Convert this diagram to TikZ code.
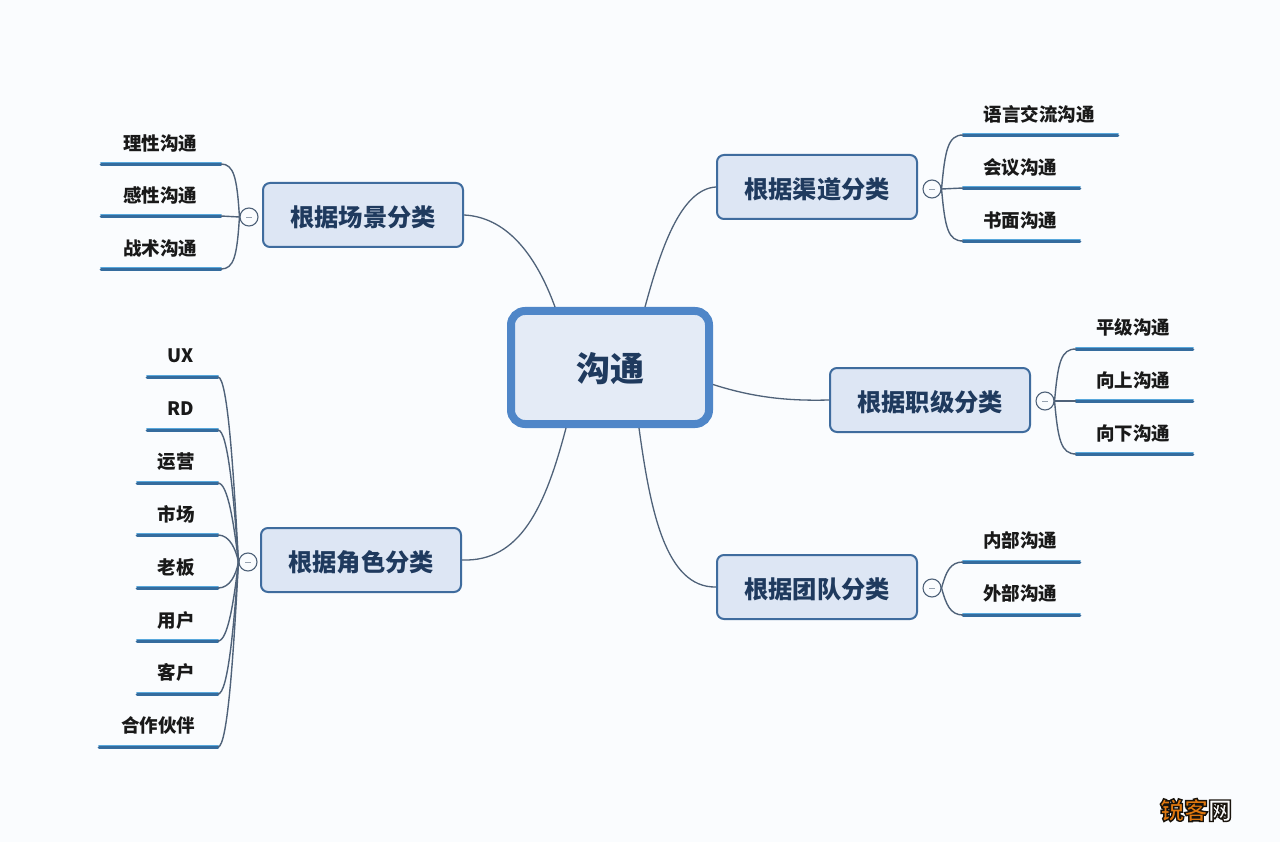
\documentclass[tikz,border=0pt]{standalone}
\usepackage{fontspec}
\setmainfont{Noto Sans CJK SC}
\definecolor{bgc}{HTML}{FAFCFE}
\definecolor{boxfill}{HTML}{DDE6F4}
\definecolor{boxline}{HTML}{3F6C9E}
\definecolor{mainline}{HTML}{4F86C8}
\definecolor{connc}{HTML}{4F6279}
\definecolor{maintext}{HTML}{1F3A5E}
\definecolor{leafdark}{HTML}{356C9E}
\definecolor{leaflight}{HTML}{58A8DC}
\tikzset{
  mainbox/.style={draw=mainline,line width=8pt,fill=boxfill!80!white,rounded corners=14pt,minimum width=198pt,minimum height=113pt,text=maintext,font=\fontsize{34}{38}\selectfont\bfseries,inner sep=0pt},
  catbox/.style={draw=boxline,line width=2pt,fill=boxfill,rounded corners=7pt,minimum width=200pt,minimum height=64pt,text=maintext,font=\fontsize{24.3}{28}\selectfont\bfseries,inner sep=0pt},
  toggle/.style={circle,draw=connc,line width=1.1pt,fill=bgc,minimum size=18pt,inner sep=0pt},
  leaf/.style={text=black!90,font=\fontsize{18.5}{22}\selectfont\bfseries,inner sep=0pt},
  conn/.style={draw=connc,line width=1.3pt},
  branch/.style={draw=connc,line width=1.4pt},
  ulight/.style={draw=leaflight,line width=1.6pt,line cap=round},
  udark/.style={draw=leafdark,line width=2.6pt,line cap=round},
  dash mark/.style={draw=connc!60,line width=0.8pt}
}
\newcommand{\leafrow}[6]{%
  \coordinate (#1a) at (#4,#6);
  \coordinate (#1b) at (#5,#6);
  \draw[ulight] ([yshift=1.4pt]#1a) -- ([yshift=1.4pt]#1b);
  \draw[udark] ([yshift=-0.3pt]#1a) -- ([yshift=-0.3pt]#1b);
  \node[leaf] (#1t) at (#2,#3+0.5) {\leaftxt};
}
\newcommand{\togglemark}[1]{\draw[dash mark] ([xshift=-3pt]#1.center) -- ([xshift=3pt]#1.center);}
\newcommand{\leaftxt}{}
\newcommand{\boxtxt}[2][-11.6pt]{\raisebox{#1}[0pt][0pt]{#2}}
\begin{document}
\begin{tikzpicture}[x=1pt,y=-1pt]
\useasboundingbox (0,0) rectangle (1280,842);
\fill[bgc] (0,0) rectangle (1280,842);

\node[mainbox] (hub) at (610,367.5) {\boxtxt[-13.7pt]{沟通}};
\node[catbox] (qd) at (817,187) {\boxtxt{根据渠道分类}};
\node[catbox] (cj) at (363,215) {\boxtxt{根据场景分类}};
\node[catbox] (zj) at (930,400) {\boxtxt{根据职级分类}};
\node[catbox] (td) at (817,587) {\boxtxt{根据团队分类}};
\node[catbox] (js) at (361,560) {\boxtxt{根据角色分类}};

% hub connectors
\draw[conn] ([xshift=35pt]hub.north) .. controls ([xshift=50pt,yshift=55pt]hub.north) and (680,189) .. (qd.west);
\draw[conn] ([xshift=-55pt]hub.north) .. controls ([xshift=-75pt,yshift=55pt]hub.north) and (505,217) .. (cj.east);
\draw[conn] ([yshift=-17pt]hub.east) .. controls (755,398) and (790,401) .. (zj.west);
\draw[conn] ([xshift=29pt]hub.south) .. controls ([xshift=40pt,yshift=-80pt]hub.south) and (665,588) .. (td.west);
\draw[conn] ([xshift=-44pt]hub.south) .. controls ([xshift=-65pt,yshift=-80pt]hub.south) and (520,562) .. (js.east);

% toggles
\node[toggle] (tq) at (932,189) {};
\node[toggle] (tc) at (249,217) {};
\node[toggle] (tz) at (1045,401) {};
\node[toggle] (tt) at (932,588) {};
\node[toggle] (tj) at (248,562) {};
\togglemark{tq}\togglemark{tc}\togglemark{tz}\togglemark{tt}\togglemark{tj}

% 渠道
\renewcommand{\leaftxt}{语言交流沟通}\leafrow{a}{1039}{114}{963}{1118}{135}
\renewcommand{\leaftxt}{会议沟通}\leafrow{b}{1020}{167}{963}{1080}{188}
\renewcommand{\leaftxt}{书面沟通}\leafrow{c}{1020}{220}{963}{1080}{241}
\draw[branch] (tq.east) .. controls (945,150) and (948,135) .. (aa);
\draw[branch] (tq.east) -- (ba);
\draw[branch] (tq.east) .. controls (945,228) and (948,241) .. (ca);

% 场景
\renewcommand{\leaftxt}{理性沟通}\leafrow{d}{160}{143}{101}{221}{164}
\renewcommand{\leaftxt}{感性沟通}\leafrow{e}{160}{195}{101}{221}{216}
\renewcommand{\leaftxt}{战术沟通}\leafrow{f}{160}{248}{101}{221}{269}
\draw[branch] (tc.west) .. controls (237,178) and (234,164) .. (db);
\draw[branch] (tc.west) -- (eb);
\draw[branch] (tc.west) .. controls (237,256) and (234,269) .. (fb);

% 职级
\renewcommand{\leaftxt}{平级沟通}\leafrow{g}{1133}{327}{1076}{1193}{349}
\renewcommand{\leaftxt}{向上沟通}\leafrow{h}{1133}{380}{1076}{1193}{401}
\renewcommand{\leaftxt}{向下沟通}\leafrow{i}{1133}{433}{1076}{1193}{454}
\draw[branch] (tz.east) .. controls (1058,362) and (1061,349) .. (ga);
\draw[branch] (tz.east) -- (ha);
\draw[branch] (tz.east) .. controls (1058,440) and (1061,454) .. (ia);

% 团队
\renewcommand{\leaftxt}{内部沟通}\leafrow{j}{1020}{540}{963}{1080}{562}
\renewcommand{\leaftxt}{外部沟通}\leafrow{k}{1020}{593}{963}{1080}{615}
\draw[branch] (tt.east) .. controls (946,572) and (950,562) .. (ja);
\draw[branch] (tt.east) .. controls (946,604) and (950,615) .. (ka);

% 角色
\renewcommand{\leaftxt}{UX}\leafrow{m}{181}{355}{147}{218}{377}
\renewcommand{\leaftxt}{RD}\leafrow{n}{181}{408}{147}{218}{430}
\renewcommand{\leaftxt}{运营}\leafrow{o}{176}{461}{137}{218}{483}
\renewcommand{\leaftxt}{市场}\leafrow{p}{176}{514}{137}{218}{535}
\renewcommand{\leaftxt}{老板}\leafrow{q}{176}{567}{137}{218}{588}
\renewcommand{\leaftxt}{用户}\leafrow{r}{176}{620}{137}{218}{641}
\renewcommand{\leaftxt}{客户}\leafrow{s}{176}{672}{137}{218}{694}
\renewcommand{\leaftxt}{合作伙伴}\leafrow{t}{158}{725}{99}{218}{747}
\draw[branch] (tj.west) .. controls (234,480) and (228,377) .. (mb);
\draw[branch] (tj.west) .. controls (234,500) and (228,430) .. (nb);
\draw[branch] (tj.west) .. controls (234,525) and (228,483) .. (ob);
\draw[branch] (tj.west) .. controls (236,550) and (230,535) .. (pb);
\draw[branch] (tj.west) .. controls (236,575) and (230,588) .. (qb);
\draw[branch] (tj.west) .. controls (234,600) and (228,641) .. (rb);
\draw[branch] (tj.west) .. controls (234,625) and (228,694) .. (sb);
\draw[branch] (tj.west) .. controls (234,645) and (228,747) .. (tb);

% watermark
\node[inner sep=0pt,font=\fontsize{24}{28}\selectfont\bfseries] (wm) at (1196,810) {%
  \special{pdf:code 2 Tr 1.4 w 0.1 0.08 0.05 RG 0.88 0.47 0.06 rg}锐客\special{pdf:code 0.98 0.98 0.98 rg}网\special{pdf:code 0 Tr 0 0 0 rg 0 0 0 RG}};
\end{tikzpicture}
\end{document}
